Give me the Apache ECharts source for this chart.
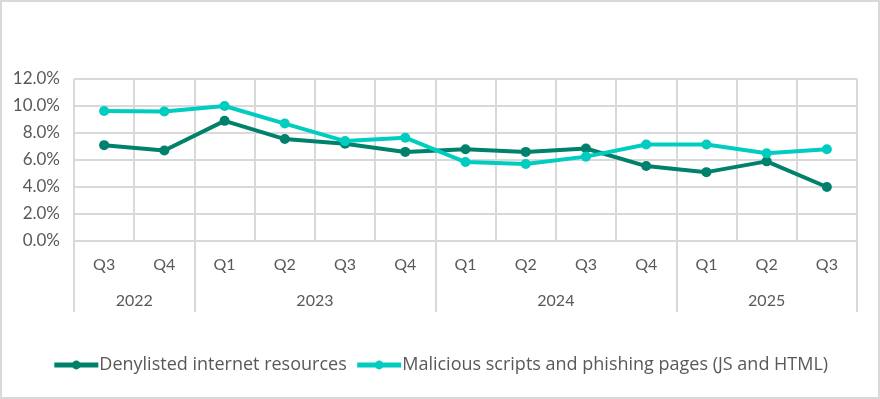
<!DOCTYPE html>
<html>
<head>
<meta charset="utf-8">
<script src="https://cdn.jsdelivr.net/npm/echarts@6/dist/echarts.min.js"></script>
<style>
  html, body { margin: 0; padding: 0; background: #fff; }
  #chart { width: 880px; height: 399px; box-sizing: border-box; border: 2px solid #d9d9d9; }
</style>
</head>
<body>
<div id="chart"></div>
<script>
// 季度 / 年份
let quarters = ['Q3', 'Q4', 'Q1', 'Q2', 'Q3', 'Q4', 'Q1', 'Q2', 'Q3', 'Q4', 'Q1', 'Q2', 'Q3'];
let years = ['2022', '2023', '2024', '2025'];
let yearCenters = [1, 4, 8, 11.5];
let yearBounds = [0, 2, 6, 10, 13];

let denylisted = [7.1, 6.7, 8.9, 7.55, 7.2, 6.6, 6.8, 6.6, 6.85, 5.55, 5.1, 5.9, 4.0];
let malicious = [9.63, 9.6, 10.0, 8.7, 7.4, 7.65, 5.85, 5.7, 6.25, 7.15, 7.15, 6.5, 6.8];

let textColor = '#595959';
let gridColor = '#d9d9d9';
let font = 'Lato';

let myChart = echarts.init(document.getElementById('chart'));

function lineSeries(name, color, data) {
    return {
        name: name,
        type: 'line',
        data: data,
        xAxisIndex: 0,
        symbol: 'circle',
        symbolSize: 10,
        itemStyle: { color: color },
        lineStyle: { width: 4, color: color },
        animation: false
    };
}

let option = {
    grid: { left: 72, right: 21, top: 77, bottom: 156 },
    legend: {
        bottom: 18,
        left: 'center',
        itemWidth: 44,
        itemHeight: 11,
        itemGap: 8,
        lineStyle: { width: 5 },
        textStyle: { color: textColor, fontSize: 18, fontFamily: 'Open Sans', padding: [0, 0, 0, -4] },
        data: ['Denylisted internet resources', 'Malicious scripts and phishing pages (JS and HTML)']
    },
    xAxis: [
        {
            type: 'category',
            data: quarters,
            boundaryGap: true,
            axisLine: { show: true, lineStyle: { color: gridColor, width: 2 } },
            axisTick: { show: false },
            splitLine: { show: true, interval: 0, lineStyle: { color: gridColor, width: 2 } },
            axisLabel: { color: textColor, fontSize: 16, fontFamily: font, margin: 16, interval: 0 }
        },
        {
            type: 'value',
            position: 'bottom',
            min: 0,
            max: 13,
            axisLine: { show: false },
            splitLine: { show: false },
            axisTick: {
                show: true,
                customValues: yearBounds,
                length: 71,
                lineStyle: { color: gridColor, width: 2 }
            },
            axisLabel: {
                customValues: yearCenters,
                color: textColor,
                fontSize: 16,
                fontFamily: font,
                margin: 52,
                formatter: function (v) {
                    return years[yearCenters.indexOf(v)];
                }
            }
        }
    ],
    yAxis: {
        type: 'value',
        min: 0,
        max: 12,
        interval: 2,
        axisLine: { show: false },
        axisTick: { show: false },
        splitLine: { lineStyle: { color: gridColor, width: 2 } },
        axisLabel: {
            color: textColor,
            fontSize: 17,
            fontFamily: font,
            margin: 14,
            formatter: function (v) { return v.toFixed(1) + '%'; }
        }
    },
    series: [
        lineSeries('Denylisted internet resources', '#00816b', denylisted),
        lineSeries('Malicious scripts and phishing pages (JS and HTML)', '#00cdbf', malicious)
    ]
};

myChart.setOption(option);
</script>
</body>
</html>
